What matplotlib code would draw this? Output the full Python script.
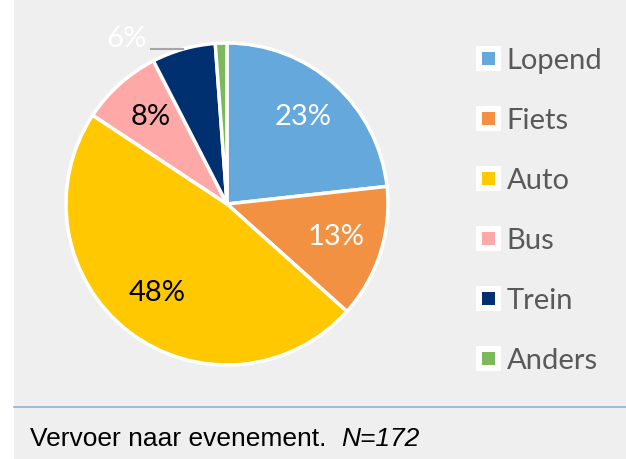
import matplotlib
matplotlib.use("Agg")
import matplotlib.pyplot as plt
from matplotlib.patches import Rectangle, Patch
import numpy as np

categories = ["Lopend", "Fiets", "Auto", "Bus", "Trein", "Anders"]
counts = [40, 23, 82, 14, 11, 2]
labels_pct = ["23%", "13%", "48%", "8%", "6%", ""]
colors = ["#65A8DC", "#F29141", "#FFC800", "#FFA8A8", "#003070", "#7DB95B"]
label_colors = ["white", "white", "black", "black", "white", "white"]
caption_main = "Vervoer naar evenement.  "
caption_n = "N=172"

W, H = 626, 459
fig = plt.figure(figsize=(W / 100, H / 100), dpi=100)
fig.patch.set_facecolor("white")

# gray background panel
fig.add_artist(Rectangle((14 / W, 0), 1 - 14 / W, 1, transform=fig.transFigure,
                         facecolor="#EFEFEF", edgecolor="none", zorder=0))
# separator line
fig.add_artist(plt.Line2D([14 / W, 1], [1 - 407 / H, 1 - 407 / H], transform=fig.transFigure,
                          color="#8DB3DA", lw=1.2, zorder=1))

cx, cy, r = 227, 204, 161
ax = fig.add_axes([(cx - r) / W, (H - cy - r) / H, 2 * r / W, 2 * r / H])
ax.set_facecolor("none")
wedges, _ = ax.pie(counts, colors=colors, startangle=90, counterclock=False,
                   radius=1.0, wedgeprops=dict(edgecolor="white", linewidth=2.5))
ax.set_xlim(-1, 1)
ax.set_ylim(-1, 1)
ax.set_aspect("equal")
ax.axis("off")

font = "Lato"
for w, lab, lc in zip(wedges, labels_pct, label_colors):
    if not lab:
        continue
    mid = np.deg2rad((w.theta1 + w.theta2) / 2)
    if lab == "6%":
        ex, ey = np.cos(mid), np.sin(mid)
        ax.plot([ex - 0.2, ex], [ey, ey], color="#A6A6A6", lw=1.5, clip_on=False)
        ax.text(ex - 0.23, ey + 0.06, lab, ha="right", va="center", color=lc,
                fontsize=21, family=font)
    else:
        d = 0.71
        ax.text(d * np.cos(mid), d * np.sin(mid) + 0.01, lab, ha="center", va="center",
                color=lc, fontsize=21, family=font)

handles = [Patch(facecolor=c, edgecolor="white", linewidth=4.3) for c in colors]
leg = fig.legend(handles, categories, loc="upper left",
                 bbox_to_anchor=(479 / W, 1 - 48 / H), frameon=False,
                 prop=dict(family=font, size=21), labelcolor="#595959",
                 handlelength=0.65, handleheight=0.65, handletextpad=0.3,
                 labelspacing=1.165, borderpad=0, borderaxespad=0)

t1 = fig.text(30 / W, 1 - 439 / H, caption_main, ha="left", va="center",
              fontsize=19, family="Liberation Sans", color="black")
fig.canvas.draw()
bb = t1.get_window_extent()
fig.text(bb.x1 / W, 1 - 439 / H, caption_n, ha="left", va="center",
         fontsize=19, family="Liberation Sans", style="italic", color="black")

fig.savefig("out.png", dpi=100)
